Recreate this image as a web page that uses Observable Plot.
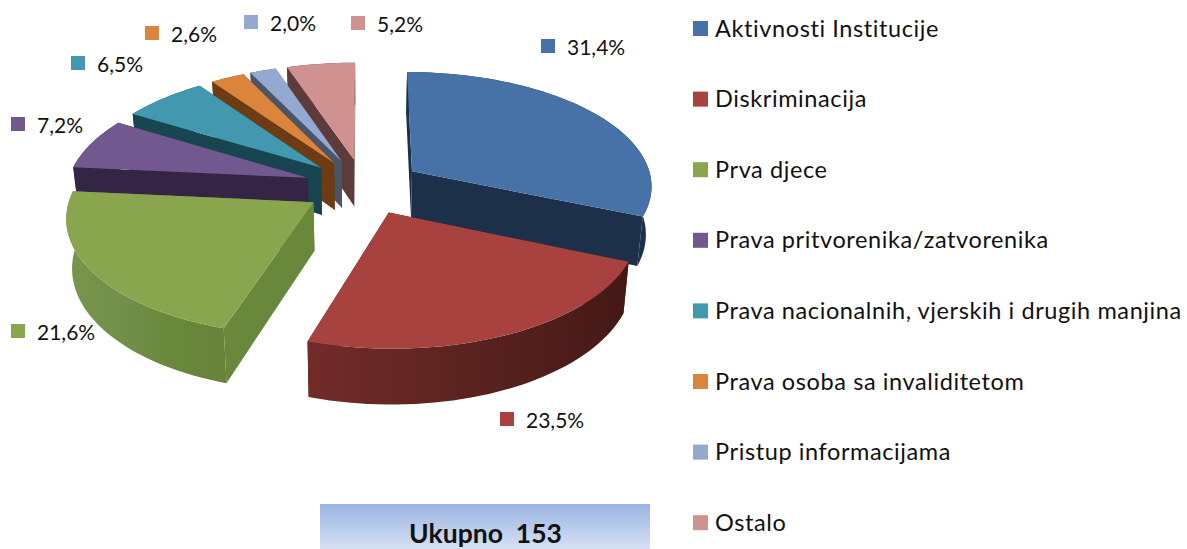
<!DOCTYPE html>
<html><head><meta charset="utf-8">
<style>html,body{margin:0;padding:0;background:#fff}svg{display:block}</style>
<script src="https://cdn.jsdelivr.net/npm/d3@7"></script>
<script src="https://cdn.jsdelivr.net/npm/@observablehq/plot@0.6"></script>
</head><body><div id="chart"></div>
<script>
// ---- data ----
const categories = ["Aktivnosti Institucije","Diskriminacija","Prva djece","Prava pritvorenika/zatvorenika","Prava nacionalnih, vjerskih i drugih manjina","Prava osoba sa invaliditetom","Pristup informacijama","Ostalo"];
const shares = [31.4,23.5,21.6,7.2,6.5,2.6,2.0,5.2];
const shareLabels = ["31,4%","23,5%","21,6%","7,2%","6,5%","2,6%","2,0%","5,2%"];
const total = "Ukupno\u00A0\u00A0153";

// ---- styles ----
const topColors  = ["#4672a8","#a8423f","#89a54e","#71588f","#4198af","#db843d","#93a9cf","#cf9291"];
const faceColors = ["#1c3049","#481a18","#6a883b","#352544","#174550","#6d3c12","#4a5568","#5f3a3a"];
const wallStops  = [["#1c3049","#1c3049"],["#722b2a","#5a2320","#441816"],["#77954a","#72904a","#6a883b","#66833a"],["#352544","#352544"],["#174550","#174550"],["#6d3c12","#6d3c12"],["#4a5568","#4a5568"],["#5f3a3a","#5f3a3a"]];
// painter's order: back slices first
const drawOrder = [7,6,5,4,3,2,0,1];
// pct-label square centres (placed by hand in the reference)
const labelSpots = [[548,46],[507,419],[18,331],[18,124],[78,63],[152,33],[251,22],[358,23]];

// ---- 3D pie model ----
const C = {cx:363, cy:186, A:241, B:114, k:0.115, H:48, shrink:0.02, explode:0.245};
function project(u,v,low){
  const w = 1 + C.k*v;
  const s = low ? 1/(1+C.shrink) : 1;
  return {x: C.cx + s*C.A*u/w, y: C.cy + (-C.B*v + (low?C.H:0))/w};
}
const rad = d => d*Math.PI/180;
const sum = d3.sum(shares);
let acc = 0;
const slices = shares.map((s,i)=>{
  const a0 = acc/sum*360; acc += s; const a1 = acc/sum*360;
  const mid = (a0+a1)/2;
  return {i,a0,a1,mid,ou:C.explode*Math.sin(rad(mid)),ov:C.explode*Math.cos(rad(mid))};
});
const rim = (sl,a,low)=>project(sl.ou+Math.sin(rad(a)),sl.ov+Math.cos(rad(a)),low);
const apex = (sl,low)=>project(sl.ou,sl.ov,low);

const polys = [];
function addPoly(id,color,pts){pts.forEach(p=>polys.push({id,color,x:p.x,y:p.y}));}
for (const i of drawOrder){
  const sl = slices[i];
  addPoly(`f0-${i}`,faceColors[i],[apex(sl,false),rim(sl,sl.a0,false),rim(sl,sl.a0,true),apex(sl,true)]);
  addPoly(`f1-${i}`,faceColors[i],[apex(sl,false),rim(sl,sl.a1,false),rim(sl,sl.a1,true),apex(sl,true)]);
  const ang = d3.range(sl.a0,sl.a1,2).concat([sl.a1]);
  addPoly(`w-${i}`,`url(#wall${i})`,[...ang.map(a=>rim(sl,a,false)),...ang.slice().reverse().map(a=>rim(sl,a,true))]);
  addPoly(`t-${i}`,topColors[i],[apex(sl,false),...ang.map(a=>rim(sl,a,false))]);
}

// legend & labels
const legendRows = categories.map((name,i)=>({name,i,x:693,y:29+i*70.6}));
const labelRows = shareLabels.map((t,i)=>({t,i,x:labelSpots[i][0],y:labelSpots[i][1]}));
const font = "Lato, 'Open Sans', sans-serif";

const gradients = () => {
  const svg = d3.create("svg:g");
  const defs = svg.append("defs");
  const g = defs.append("linearGradient").attr("id","boxgrad").attr("x1",0).attr("y1",0).attr("x2",0).attr("y2",1);
  g.append("stop").attr("offset","0%").attr("stop-color","#9ab4e2");
  g.append("stop").attr("offset","100%").attr("stop-color","#d6e0f3");
  wallStops.forEach((stops,i)=>{
    const w = defs.append("linearGradient").attr("id",`wall${i}`).attr("x1",0).attr("y1",0).attr("x2",1).attr("y2",0);
    stops.forEach((c,j)=>w.append("stop").attr("offset",j/(stops.length-1)).attr("stop-color",c));
  });
  return svg.node();
};

const chart = Plot.plot({
  width:1187,height:549,margin:0,
  x:{domain:[0,1187],range:[0,1187],axis:null},
  y:{domain:[0,549],range:[0,549],axis:null},
  color:{type:"identity"},
  marks:[
    gradients,
    Plot.line(polys,{x:"x",y:"y",z:"id",fill:"color",stroke:"none",curve:"linear-closed"}),
    Plot.rect(labelRows,{x1:d=>d.x-7,x2:d=>d.x+7,y1:d=>d.y-7,y2:d=>d.y+7,fill:d=>topColors[d.i]}),
    Plot.text(labelRows,{x:d=>d.x+18.5,y:d=>d.y+1.5,text:"t",textAnchor:"start",fontSize:21,fontFamily:font,fill:"#111"}),
    Plot.rect(legendRows,{x1:"x",x2:d=>d.x+15,y1:d=>d.y-8,y2:d=>d.y+7,fill:d=>topColors[d.i]}),
    Plot.text(legendRows,{x:d=>d.x+21.5,y:d=>d.y-0.5,text:"name",textAnchor:"start",fontSize:23.5,fontFamily:font,fill:"#111"}),
    Plot.rect([total],{x1:()=>320,x2:()=>650,y1:()=>504,y2:()=>549,fill:"url(#boxgrad)"}),
    Plot.text([total],{x:()=>485,y:()=>534,text:d=>d,fontSize:26.5,fontWeight:"bold",fontFamily:font,fill:"#111"})
  ]
});
d3.select(chart).selectAll('g[font-size="23.5"] text').style("letter-spacing","0.6px");
document.getElementById("chart").append(chart);
</script></body></html>
